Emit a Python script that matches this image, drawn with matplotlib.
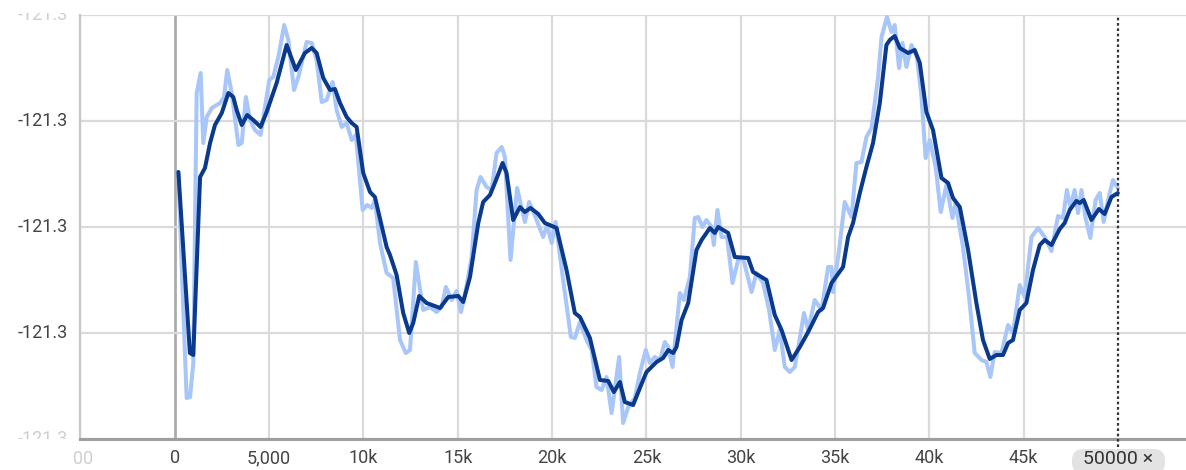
import matplotlib
matplotlib.use("Agg")
import matplotlib.pyplot as plt
from matplotlib.patches import FancyBboxPatch
from matplotlib.transforms import Bbox, TransformedBbox, IdentityTransform

plt.rcParams["font.family"] = ["Roboto", "DejaVu Sans"]

# Raw scalar values (light line)
raw_steps = [190, 450, 630, 810, 980, 1160, 1370, 1510, 1690, 1960, 2400, 2610, 2780, 3020,
             3370, 3550, 3770, 3990, 4250, 4550, 5010, 5220, 5490, 5800, 6020, 6320, 6550,
             6990, 7260, 7520, 7790, 8050, 8370, 8580, 8850, 9110, 9380, 9600, 9960, 10200,
             10440, 10610, 10880, 11230, 11580, 11940, 12250, 12470, 12780, 13170, 13530,
             13880, 14150, 14370, 14680, 14940, 15170, 15380, 15740, 16000, 16210, 16530,
             16800, 17060, 17330, 17500, 17800, 18150, 18560, 18790, 19140, 19530, 19740,
             19980, 20190, 20590, 21000, 21210, 21480, 21830, 22100, 22360, 22630, 22890,
             23160, 23560, 23770, 24040, 24390, 24660, 24970, 25190, 25450, 25720, 25980,
             26160, 26390, 26780, 26990, 27310, 27570, 27750, 27980, 28190, 28460, 28580,
             28770, 28990, 29280, 29570, 29870, 30130, 30580, 30840, 31190, 31510, 31810,
             32080, 32340, 32610, 32870, 33140, 33360, 33580, 33930, 34290, 34640, 34820,
             34900, 35220, 35520, 35880, 36140, 36410, 36670, 36940, 37290, 37470, 37760,
             38000, 38170, 38400, 38580, 38790, 39060, 39350, 39590, 39810, 40030, 40340,
             40610, 40910, 41230, 41400, 41790, 42110, 42410, 42770, 43030, 43240, 43470,
             43830, 44180, 44440, 44800, 45060, 45420, 45770, 46120, 46480, 46830, 47090,
             47300, 47480, 47710, 47890, 48070, 48290, 48540, 48820, 49040, 49250, 49480,
             49740, 50000]
raw_values = [-121.2757, -121.2895, -121.2983, -121.2982, -121.2948, -121.2678, -121.2658,
              -121.2728, -121.2702, -121.2693, -121.2688, -121.2682, -121.2655, -121.2678,
              -121.2730, -121.2728, -121.2682, -121.2705, -121.2715, -121.2720, -121.2665,
              -121.2662, -121.2642, -121.2610, -121.2625, -121.2675, -121.2662, -121.2627,
              -121.2628, -121.2645, -121.2687, -121.2685, -121.2667, -121.2695, -121.2712,
              -121.2708, -121.2725, -121.2720, -121.2795, -121.2790, -121.2793, -121.2785,
              -121.2828, -121.2858, -121.2863, -121.2925, -121.2938, -121.2935, -121.2847,
              -121.2895, -121.2892, -121.2897, -121.2892, -121.2872, -121.2885, -121.2876,
              -121.2897, -121.2880, -121.2842, -121.2775, -121.2762, -121.2772, -121.2775,
              -121.2738, -121.2732, -121.2742, -121.2845, -121.2773, -121.2807, -121.2787,
              -121.2803, -121.2822, -121.2810, -121.2828, -121.2807, -121.2865, -121.2922,
              -121.2923, -121.2907, -121.2925, -121.2935, -121.2972, -121.2975, -121.2962,
              -121.2998, -121.2942, -121.3008, -121.2992, -121.2983, -121.2958, -121.2935,
              -121.2948, -121.2942, -121.2945, -121.2927, -121.2932, -121.2952, -121.2878,
              -121.2885, -121.2862, -121.2803, -121.2802, -121.2812, -121.2805, -121.2812,
              -121.2830, -121.2795, -121.2822, -121.2822, -121.2868, -121.2845, -121.2843,
              -121.2877, -121.2858, -121.2868, -121.2895, -121.2935, -121.2915, -121.2952,
              -121.2957, -121.2952, -121.2923, -121.2898, -121.2915, -121.2885, -121.2895,
              -121.2852, -121.2852, -121.2877, -121.2835, -121.2787, -121.2802, -121.2748,
              -121.2747, -121.2722, -121.2713, -121.2662, -121.2622, -121.2602, -121.2617,
              -121.2610, -121.2653, -121.2628, -121.2652, -121.2630, -121.2642, -121.2682,
              -121.2743, -121.2725, -121.2752, -121.2797, -121.2770, -121.2803, -121.2788,
              -121.2832, -121.2882, -121.2938, -121.2945, -121.2947, -121.2962, -121.2937,
              -121.2938, -121.2910, -121.2918, -121.2870, -121.2882, -121.2822, -121.2813,
              -121.2822, -121.2836, -121.2801, -121.2803, -121.2775, -121.2792, -121.2775,
              -121.2798, -121.2775, -121.2803, -121.2823, -121.2785, -121.2778, -121.2807,
              -121.2785, -121.2765, -121.2773]

# Smoothed scalar values (dark line)
smooth_steps = [190, 800, 980, 1340, 1600, 1870, 2130, 2490, 2840, 3100, 3280, 3550, 3840,
                4160, 4550, 4870, 5400, 5930, 6420, 6900, 7260, 7520, 7870, 8230, 8490, 8760,
                9110, 9380, 9640, 9990, 10350, 10610, 11230, 11410, 11760, 12110, 12430,
                12640, 12960, 13350, 14060, 14500, 15030, 15290, 15650, 16090, 16350, 16710,
                16970, 17380, 17590, 17940, 18300, 18560, 18860, 19270, 19620, 20240, 20770,
                21210, 21480, 22010, 22540, 22980, 23280, 23600, 23860, 24300, 24830, 25010,
                25540, 25890, 26160, 26420, 26600, 26870, 27220, 27660, 27930, 28370, 28630,
                28810, 29340, 29690, 30400, 30660, 31370, 31810, 32170, 32700, 33140, 33580,
                34110, 34370, 34820, 35430, 35700, 35960, 36320, 36670, 37020, 37380, 37730,
                37910, 38170, 38440, 38880, 39230, 39500, 39850, 40200, 40650, 41000, 41260,
                41620, 42060, 42500, 42850, 43210, 43560, 43910, 44180, 44440, 44800, 45150,
                45500, 45860, 46120, 46480, 46920, 47180, 47450, 47800, 47980, 48190, 48600,
                49000, 49300, 49660, 50000]
smooth_values = [-121.2757, -121.2938, -121.2940, -121.2762, -121.2753, -121.2728, -121.2710,
                 -121.2698, -121.2678, -121.2682, -121.2695, -121.2710, -121.2700, -121.2705,
                 -121.2712, -121.2697, -121.2668, -121.2630, -121.2655, -121.2638, -121.2633,
                 -121.2638, -121.2663, -121.2675, -121.2674, -121.2688, -121.2702, -121.2708,
                 -121.2712, -121.2758, -121.2777, -121.2782, -121.2832, -121.2840, -121.2860,
                 -121.2898, -121.2918, -121.2908, -121.2881, -121.2888, -121.2893, -121.2882,
                 -121.2881, -121.2887, -121.2862, -121.2808, -121.2787, -121.2780, -121.2768,
                 -121.2748, -121.2758, -121.2805, -121.2792, -121.2797, -121.2793, -121.2799,
                 -121.2808, -121.2813, -121.2855, -121.2898, -121.2902, -121.2923, -121.2965,
                 -121.2966, -121.2977, -121.2967, -121.2987, -121.2990, -121.2965, -121.2957,
                 -121.2947, -121.2943, -121.2935, -121.2938, -121.2932, -121.2905, -121.2888,
                 -121.2835, -121.2825, -121.2813, -121.2818, -121.2812, -121.2818, -121.2842,
                 -121.2843, -121.2857, -121.2865, -121.2900, -121.2915, -121.2945, -121.2932,
                 -121.2917, -121.2897, -121.2893, -121.2868, -121.2852, -121.2822, -121.2808,
                 -121.2778, -121.2752, -121.2728, -121.2688, -121.2630, -121.2625, -121.2621,
                 -121.2633, -121.2638, -121.2635, -121.2648, -121.2697, -121.2715, -121.2763,
                 -121.2768, -121.2783, -121.2792, -121.2835, -121.2888, -121.2925, -121.2944,
                 -121.2940, -121.2940, -121.2928, -121.2925, -121.2895, -121.2888, -121.2855,
                 -121.2830, -121.2825, -121.2830, -121.2814, -121.2808, -121.2795, -121.2786,
                 -121.2788, -121.2785, -121.2805, -121.2794, -121.2799, -121.2782, -121.2778]

# Axis ticks
x_ticks = [0, 5000, 10000, 15000, 20000, 25000, 30000, 35000, 40000, 45000]
x_tick_labels = ["0", "5,000", "10k", "15k", "20k", "25k", "30k", "35k", "40k", "45k"]
x_edge_label = "-5,000"
y_ticks = [-121.2600, -121.2706, -121.2812, -121.2918, -121.3024]
selected_step = 50000
chip_label = "50000 \u00d7"

W, H = 1186, 470
fig = plt.figure(figsize=(W / 100, H / 100), dpi=100)
ax = fig.add_axes([80 / W, 31 / H, 1106 / W, 424 / H])

ax.set_xlim(-5026, 53614)
ax.set_ylim(-121.3024, -121.2600)

# grid
grid_c = "#dadada"
for xt in [-5000] + x_ticks:
    ax.axvline(xt, color="#ababab" if xt == 0 else grid_c, lw=2.0 if xt == 0 else 1.6, zorder=0)
for yt in y_ticks:
    ax.axhline(yt, color=grid_c, lw=1.6, zorder=0)

ax.plot(raw_steps, raw_values, color="#a8c6fa", lw=2.9, solid_joinstyle="round",
        solid_capstyle="round", zorder=2)
ax.plot(smooth_steps, smooth_values, color="#0b3a8c", lw=2.9, solid_joinstyle="round",
        solid_capstyle="round", zorder=3)

ax.axvline(selected_step, ymin=-0.02, ymax=1, color="#333333", lw=1.6,
           ls=(0, (1.2, 1.2)), clip_on=False, zorder=4)

for s in ["top", "right"]:
    ax.spines[s].set_visible(False)
ax.spines["left"].set_color("#c8c8c8")
ax.spines["left"].set_linewidth(1.6)
ax.spines["bottom"].set_color("#9e9e9e")
ax.spines["bottom"].set_linewidth(2.2)

ax.set_xticks([])
ax.set_yticks([])

label_c = "#444444"
fs = 13

# x tick labels
for xt, lab in zip(x_ticks, x_tick_labels):
    ax.text(xt, -0.045, lab, transform=ax.get_xaxis_transform(), ha="center", va="center",
            fontsize=fs, color=label_c)

# faded, partially hidden label at the left edge
clip_x = TransformedBbox(Bbox([[72 / W, 0], [1, 1]]), fig.transFigure)
t = fig.text(94 / W, 1 - 458 / H, x_edge_label, ha="right", va="center", fontsize=fs,
             color="#d0d0d0")
t.set_clip_box(clip_x)
t.set_clip_on(True)

# y tick labels, faded and clipped at the top and bottom edges
clip_y = TransformedBbox(Bbox([[0, 31 / H], [1, 1 - 13 / H]]), fig.transFigure)
for i, yt in enumerate(y_ticks):
    edge = i in (0, len(y_ticks) - 1)
    t = ax.text(-12 / 1106, yt, f"{yt:.1f}", transform=ax.get_yaxis_transform(),
                ha="right", va="center", fontsize=fs,
                color="#cfcfcf" if edge else label_c)
    if edge:
        t.set_clip_box(clip_y)
        t.set_clip_on(True)

# selected-step chip (pixel coordinates)
chip = FancyBboxPatch((1072, -4), 93, 25,
                      boxstyle="round,pad=0,rounding_size=11",
                      transform=IdentityTransform(), facecolor="#e3e3e3", edgecolor="none")
fig.patches.append(chip)
fig.text(1118 / W, 1 - 459 / H, chip_label, ha="center", va="center", fontsize=14,
         color="#333333")

fig.savefig("out.png", dpi=100)
